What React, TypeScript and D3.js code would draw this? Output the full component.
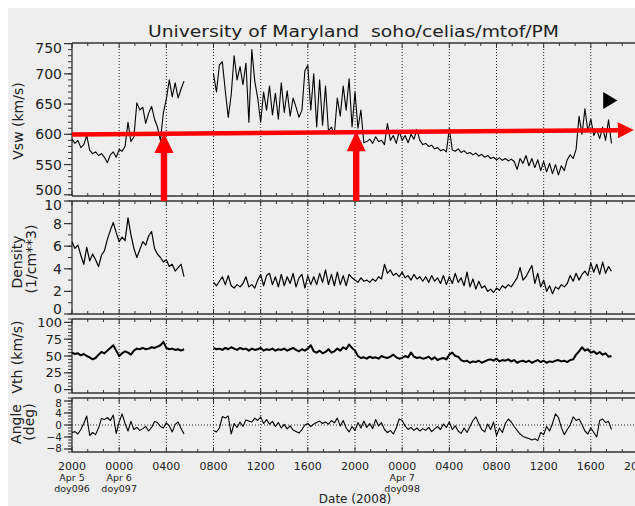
import React from "react";
import * as d3 from "d3";

// ---------- time frame ----------
const START_MS = Date.UTC(2008, 3, 5, 20, 0);
const END_MS = Date.UTC(2008, 3, 7, 20, 0);
const STEP_MIN = 15;
const SEG_A_OFFSET_MIN = 0; // 20:00 Apr 5
const SEG_B_OFFSET_MIN = 12 * 60; // 08:00 Apr 6

// ---------- data ----------
const vswA = [592,585,590,578,583,598,574,568,571,565,568,562,553,566,571,562,575,572,580,620,588,596,652,640,645,618,635,646,625,612,590,636,658,690,662,685,660,675,688];
const vswB = [700,670,715,720,672,628,665,730,690,712,
  682,718,620,740,688,660,620,670,640,680,
  632,668,625,685,636,672,630,660,645,628,
  640,705,714,640,700,612,690,615,680,605,
  612,600,660,630,680,640,692,612,670,610,
  640,586,588,592,585,596,588,590,583,618,
  590,598,585,605,590,598,586,600,592,608,
  590,583,585,580,582,576,578,573,575,571,
  610,574,572,576,570,573,568,570,566,569,
  564,567,562,565,560,562,558,561,557,560,
  556,559,555,542,560,552,565,548,560,545,
  558,540,555,538,552,535,550,533,548,540,
  558,566,560,575,630,600,642,605,625,598,
  608,593,612,590,624,585];

const densA = [6.4,5.8,6.1,5.2,4.4,5.9,4.7,5.3,4.8,4.2,5.2,5.6,6.6,7.4,8.1,7.2,6.4,6.8,6.5,8.5,7.0,5.8,5.0,5.7,6.4,6.1,6.9,7.3,5.8,5.3,5.0,4.6,4.8,4.2,4.4,3.8,4.1,4.4,3.3];
const densB = [2.8,2.5,2.9,3.3,2.6,3.4,2.5,2.3,2.6,2.4,
  2.7,3.3,2.4,2.6,2.3,3.0,3.5,2.5,3.4,3.6,
  2.6,3.3,2.4,3.5,2.5,3.3,2.7,3.6,2.4,3.2,
  3.5,2.3,3.4,2.6,3.3,2.6,3.6,2.8,3.9,2.6,
  3.5,2.5,3.7,2.6,3.4,2.5,3.5,3.2,3.0,2.8,
  3.2,2.9,3.0,2.8,3.1,2.9,3.3,3.1,4.4,3.6,
  3.9,3.4,3.6,3.3,3.7,3.2,3.4,3.0,3.5,3.1,
  3.3,2.9,3.3,2.8,3.4,2.9,3.2,2.7,3.4,2.6,
  3.3,2.7,3.6,2.8,3.2,2.5,3.7,2.4,3.1,2.2,
  2.9,2.3,2.5,2.0,2.2,1.9,2.3,2.1,2.5,2.3,
  2.6,2.4,2.8,3.2,4.1,3.0,3.3,3.8,4.3,2.7,
  3.6,2.4,3.0,2.0,2.5,1.8,2.4,2.2,2.6,2.4,
  2.7,3.4,2.9,3.6,3.0,3.5,3.8,3.4,4.5,3.7,
  4.4,3.5,4.6,3.6,4.2,3.8];

const vthA = [55,53,54,51,53,50,48,45,47,52,56,54,58,62,66,58,50,54,57,55,52,58,61,60,62,60,61,63,62,64,66,71,62,60,61,59,60,58,60];
const vthB = [62,60,61,59,62,60,63,61,59,62,60,61,
  58,61,59,60,62,58,60,59,61,58,60,59,
  61,58,60,62,59,57,60,58,61,66,57,55,
  58,54,56,60,55,57,61,58,63,60,67,62,
  58,50,47,
  48,46,49,47,48,46,50,48,47,49,52,48,46,47,50,48,55,49,47,48,46,47,49,45,48,44,46,47,45,
  52,55,50,49,
  44,42,43,40,42,41,43,40,42,44,
  45,43,46,42,44,43,45,42,44,40,42,43,
  41,43,40,42,44,41,43,40,42,41,43,44,42,43,41,44,45,
  52,57,63,58,60,55,57,53,56,52,54,49,50];

const angleA = [-2.5,-2.2,-3.0,-1.5,0.5,3.0,-3.5,-2.5,-3.2,-1.0,2.2,1.8,2.5,1.5,3.3,-2.8,1.0,3.7,0.5,-2.0,1.2,-1.5,-0.8,-1.8,-1.2,-0.5,-2.0,-0.8,1.2,0.8,-0.5,-1.0,0.7,-0.3,-2.3,0.2,1.0,-1.2,-3.0];
const angleB = [-1.8,-2.3,-1.0,2.8,2.3,3.0,-3.0,0.5,-0.8,1.0,
  -0.5,1.7,1.3,1.0,2.3,1.5,2.7,0.5,1.8,0.3,
  1.2,-0.5,0.8,-1.0,0.2,-1.3,-0.3,-1.7,-2.2,-2.7,
  -1.5,0.0,0.5,-0.5,0.3,0.8,1.3,0.5,1.0,0.3,
  1.5,0.7,2.3,-0.3,1.5,-1.0,-2.3,-0.5,-1.8,0.8,
  -1.0,1.3,-0.8,0.5,-1.2,1.8,-0.3,0.8,-1.5,-2.5,
  -1.8,-3.0,-1.0,2.0,1.5,-0.3,-1.5,-0.8,-1.8,-1.0,
  -2.0,-1.2,-1.8,-0.8,-2.2,-1.3,-0.5,-1.5,0.3,-0.8,
  1.0,-1.5,-0.3,-2.0,-2.8,-1.0,-2.5,-0.5,1.5,2.7,
  0.5,-1.5,-2.3,0.3,-1.5,1.0,-3.5,-1.0,-2.5,0.5,
  2.0,1.0,-0.5,-1.8,-3.0,-3.8,-4.2,-4.5,-5.0,-4.6,
  -5.2,-2.5,-3.2,-0.5,-2.0,0.5,3.7,2.5,-0.8,-3.2,
  -1.5,0.0,2.7,1.5,2.0,0.2,-2.0,-3.0,-1.0,-2.5,
  -4.0,1.5,2.0,0.8,1.2,-1.5];

// ---------- ticks / labels ----------
const vswTicks = [500, 550, 600, 650, 700, 750];
const densTicks = [0, 2, 4, 6, 8, 10];
const vthTicks = [0, 25, 50, 75, 100];
const angleTicks = [-8, -4, 0, 4, 8];
const xTickLabels = ["2000","0000","0400","0800","1200","1600","2000","0000","0400","0800","1200","1600","2000"];
const xSubLabels1 = ["Apr 5","Apr 6","","","","","","Apr 7","","","","",""];
const xSubLabels2 = ["doy096","doy097","","","","","","doy098","","","","",""];
const titleText = "University of Maryland  soho/celias/mtof/PM";
const xAxisTitle = "Date (2008)";

// ---------- annotations (time in hours from start, value in km/s) ----------
const arrowHours = [7.8, 24.1];
const arrowTipVsw = [602, 605];
const hArrowHours = [0, 47.65];
const hArrowVsw = [599.6, 607];
const triHours = [45.05, 46.25];
const triVsw = [642, 670];

const toDate = (offsetMin: number) => new Date(START_MS + offsetMin * 60000);
const hourDate = (h: number) => new Date(START_MS + h * 3600000);

function pts(vals: number[], offsetMin: number) {
  return vals.map((v, i) => ({ t: toDate(offsetMin + i * STEP_MIN), v }));
}

export default function App() {
  const x = d3.scaleUtc().domain([new Date(START_MS), new Date(END_MS)]).range([72, 638]);
  const X_LEFT = 72;
  const X_RIGHT = 640;

  const panels = [
    { key: "vsw", segs: [vswA, vswB], y: d3.scaleLinear().domain([498, 751]).range([196, 43]), ticks: vswTicks, minor: d3.range(500, 751, 10), sw: 1.1, fs: 14, shift: { 750: 4, 500: -5 } as Record<number, number>, fmt: (d: number) => String(d) },
    { key: "dens", segs: [densA, densB], y: d3.scaleLinear().domain([0, 10]).range([314, 201]), ticks: densTicks, minor: d3.range(0, 10.01, 1), sw: 1.2, fs: 14, shift: { 10: 4, 0: -5 } as Record<number, number>, fmt: (d: number) => String(d) },
    { key: "vth", segs: [vthA, vthB], y: d3.scaleLinear().domain([-5, 105]).range([393, 319]), ticks: vthTicks, minor: d3.range(-5, 105.01, 5), sw: 2, fs: 13, shift: { 0: -1.5 } as Record<number, number>, fmt: (d: number) => String(d) },
    { key: "angle", segs: [angleA, angleB], y: d3.scaleLinear().domain([-9, 9]).range([452, 398]), ticks: angleTicks, minor: d3.range(-9, 9.01, 1), sw: 1.1, fs: 10.5, shift: { 8: 2, "-8": -1 } as Record<number, number>, fmt: (d: number) => (d < 0 ? "\u2212" + Math.abs(d) : String(d)) },
  ];

  const majorX = d3.range(0, 13).map((i) => toDate(i * 240));
  const minorX = d3.range(0, 48 * 60 + 1, 80).filter((m) => m % 240 !== 0).map((m) => toDate(m));

  const yV = panels[0].y;
  const topY = 43;
  const bottomY = 452;
  const dens0Top = panels[1].y.range()[1];

  // horizontal red arrow
  const hx0 = x(hourDate(hArrowHours[0]));
  const hy0 = yV(hArrowVsw[0]);
  const hx1 = x(hourDate(hArrowHours[1]));
  const hy1 = yV(hArrowVsw[1]);
  const ang = Math.atan2(hy1 - hy0, hx1 - hx0);
  const hl = 16, hw = 8;
  const bx = hx1 - hl * Math.cos(ang);
  const by = hy1 - hl * Math.sin(ang);
  const hHead = [
    [hx1, hy1],
    [bx - hw * Math.sin(ang), by + hw * Math.cos(ang)],
    [bx + hw * Math.sin(ang), by - hw * Math.cos(ang)],
  ];

  const tri = [
    [x(hourDate(triHours[0])), yV(triVsw[1])],
    [x(hourDate(triHours[0])), yV(triVsw[0])],
    [x(hourDate(triHours[1])), yV((triVsw[0] + triVsw[1]) / 2)],
  ];

  return (
    <svg width={635} height={506} style={{ position: "absolute", left: 0, top: 0, display: "block" }} fontFamily="'DejaVu Sans', sans-serif">
      <rect x={8} y={8} width={627} height={498} fill="#eeeeee" />

      {/* title */}
      <text x={148} y={37} fontSize={16} fill="#222" textLength={411} lengthAdjust="spacingAndGlyphs" style={{ whiteSpace: "pre" }}>{titleText}</text>

      {/* vertical dotted grid */}
      {majorX.slice(1).map((d, i) => (
        <line key={"g" + i} x1={x(d)} x2={x(d)} y1={topY} y2={bottomY} stroke="#222" strokeWidth={1} strokeDasharray="1,2" />
      ))}
      {/* angle zero line */}
      <line x1={X_LEFT} x2={X_RIGHT} y1={panels[3].y(0)} y2={panels[3].y(0)} stroke="#222" strokeWidth={1} strokeDasharray="1,2" />

      {panels.map((p) => {
        const [yb, yt] = p.y.range() as number[];
        const line = d3.line<{ t: Date; v: number }>().x((d) => x(d.t)).y((d) => p.y(d.v));
        return (
          <g key={p.key}>
            {/* frame */}
            <line x1={X_LEFT} x2={X_RIGHT} y1={yt} y2={yt} stroke="#333" strokeWidth={1.3} />
            <line x1={X_LEFT} x2={X_RIGHT} y1={yb} y2={yb} stroke="#333" strokeWidth={1.3} />
            <line x1={X_LEFT} x2={X_LEFT} y1={yt} y2={yb} stroke="#333" strokeWidth={1.3} />
            {/* x ticks */}
            {majorX.map((d, i) => (
              <g key={"mx" + i}>
                <line x1={x(d)} x2={x(d)} y1={yt} y2={yt + 5} stroke="#333" strokeWidth={1} />
                <line x1={x(d)} x2={x(d)} y1={yb} y2={yb - 5} stroke="#333" strokeWidth={1} />
              </g>
            ))}
            {minorX.map((d, i) => (
              <g key={"nx" + i}>
                <line x1={x(d)} x2={x(d)} y1={yt} y2={yt + 3} stroke="#333" strokeWidth={1} />
                <line x1={x(d)} x2={x(d)} y1={yb} y2={yb - 3} stroke="#333" strokeWidth={1} />
              </g>
            ))}
            {/* y ticks */}
            {p.minor.map((v, i) => (
              <line key={"ny" + i} x1={X_LEFT - 4} x2={X_LEFT} y1={p.y(v)} y2={p.y(v)} stroke="#333" strokeWidth={1} />
            ))}
            {p.ticks.map((v, i) => {
              const yy = p.y(v);
              const ly = yy + (p.shift[v] || 0);
              return (
                <g key={"my" + i}>
                  <line x1={X_LEFT - 8} x2={X_LEFT} y1={yy} y2={yy} stroke="#333" strokeWidth={1.2} />
                  <text x={62} y={ly} dy="0.36em" textAnchor="end" fontSize={p.fs} fill="#222">{p.fmt(v)}</text>
                </g>
              );
            })}
            {/* data */}
            <path d={line(pts(p.segs[0], SEG_A_OFFSET_MIN)) || ""} fill="none" stroke="#000" strokeWidth={p.sw} strokeLinejoin="round" />
            <path d={line(pts(p.segs[1], SEG_B_OFFSET_MIN)) || ""} fill="none" stroke="#000" strokeWidth={p.sw} strokeLinejoin="round" />
          </g>
        );
      })}

      {/* y axis titles */}
      <text transform="translate(23,121) rotate(-90)" textAnchor="middle" fontSize={14} fill="#222">Vsw (km/s)</text>
      <text transform="translate(22,262) rotate(-90)" textAnchor="middle" fontSize={14} fill="#222">Density</text>
      <text transform="translate(36,259) rotate(-90)" textAnchor="middle" fontSize={14} fill="#222">(1/cm**3)</text>
      <text transform="translate(22,357) rotate(-90)" textAnchor="middle" fontSize={14} fill="#222">Vth (km/s)</text>
      <text transform="translate(21,424) rotate(-90)" textAnchor="middle" fontSize={14} fill="#222">Angle</text>
      <text transform="translate(34,422) rotate(-90)" textAnchor="middle" fontSize={14} fill="#222">(deg)</text>

      {/* x labels */}
      {majorX.map((d, i) => (
        <g key={"xl" + i}>
          <text x={x(d)} y={470} textAnchor="middle" fontSize={11} fill="#222">{xTickLabels[i]}</text>
          {xSubLabels1[i] && <text x={x(d)} y={481} textAnchor="middle" fontSize={9.5} fill="#222">{xSubLabels1[i]}</text>}
          {xSubLabels2[i] && <text x={x(d)} y={491.5} textAnchor="middle" fontSize={9.5} fill="#222">{xSubLabels2[i]}</text>}
        </g>
      ))}
      <text x={(X_LEFT + 638) / 2} y={503} textAnchor="middle" fontSize={12} fill="#222">{xAxisTitle}</text>

      {/* black triangle marker */}
      <polygon points={tri.map((p) => p.join(",")).join(" ")} fill="#000" />

      {/* red annotations */}
      <line x1={hx0} y1={hy0} x2={bx} y2={by} stroke="#ff0000" strokeWidth={4.5} />
      <polygon points={hHead.map((p) => p.join(",")).join(" ")} fill="#ff0000" />
      {arrowHours.map((h, i) => {
        const ax = x(hourDate(h));
        const ay = yV(arrowTipVsw[i]);
        const hb = ay + 20;
        return (
          <g key={"va" + i}>
            <rect x={ax - 3.2} y={hb - 1} width={6.4} height={dens0Top - hb + 1} fill="#ff0000" />
            <polygon points={`${ax},${ay} ${ax - 9.5},${hb} ${ax + 9.5},${hb}`} fill="#ff0000" />
          </g>
        );
      })}
    </svg>
  );
}
